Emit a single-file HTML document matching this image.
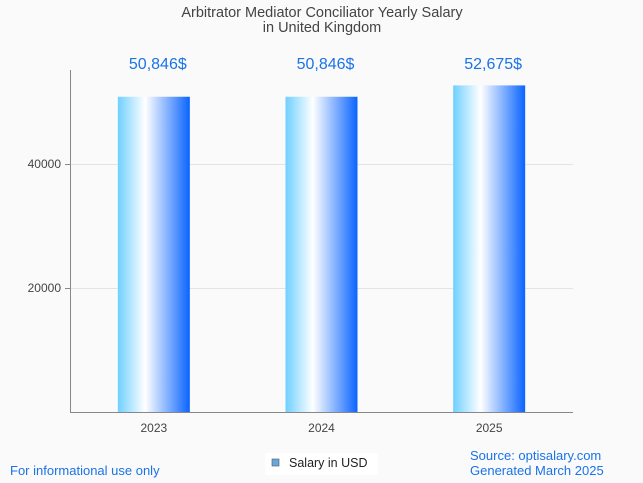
<!DOCTYPE html>
<html><head><meta charset="utf-8"><style>
body{margin:0;background:#fafafa;font-family:"Liberation Sans",sans-serif}
svg{display:block}
</style></head><body>
<svg id="chart" width="643" height="483" xmlns="http://www.w3.org/2000/svg">
<defs><linearGradient id="g" x1="0" x2="1" y1="0" y2="0">
<stop offset="0" stop-color="#6fd0ff"/><stop offset="0.38" stop-color="#ffffff"/><stop offset="1" stop-color="#0a64ff"/>
</linearGradient></defs>
<rect width="643" height="483" fill="#fafafa"/>
<text x="322" y="17" text-anchor="middle" font-size="14.5" fill="#444">Arbitrator Mediator Conciliator Yearly Salary</text>
<text x="322" y="32" text-anchor="middle" font-size="14.5" fill="#444">in United Kingdom</text>
<g id="grid"></g>
<g id="bars"></g>
<line x1="70.5" y1="70" x2="70.5" y2="412" stroke="#888"/>
<line x1="70" y1="412.5" x2="573" y2="412.5" stroke="#888"/>
<text x="10" y="475" font-size="13" fill="#1a73e8">For informational use only</text>
<rect x="265" y="453" width="113" height="22" fill="#fff"/>
<rect x="272" y="459" width="7" height="7" fill="#6aa6e0" stroke="#555" stroke-width="0.6"/>
<text x="289" y="467" font-size="12.5" fill="#222">Salary in USD</text>
<text x="470" y="460" font-size="13" fill="#1a73e8">Source: optisalary.com</text>
<text x="470" y="475" font-size="13" fill="#1a73e8">Generated March 2025</text>
</svg>
<script>
const categories=["2023","2024","2025"];
const values=[50846,50846,52675];
const valueLabels=["50,846$","50,846$","52,675$"];
const yTicks=[20000,40000];
const NS="http://www.w3.org/2000/svg";
const x0=70,x1=573,yBase=412,yTop=71,yMax=55000;
const y=v=>yBase-(v/yMax)*(yBase-yTop);
const band=(x1-x0)/categories.length;
const xc=i=>x0+band*(i+0.5);
function mk(t,a,p){const e=document.createElementNS(NS,t);for(const k in a)e.setAttribute(k,a[k]);p.appendChild(e);return e;}
const grid=document.getElementById('grid'),bars=document.getElementById('bars');
yTicks.forEach(v=>{
 const l=mk('line',{x1:x0,x2:x1,y1:y(v)+0.5,y2:y(v)+0.5,stroke:'#e3e3e3'},grid);
 
 
 const tk=mk('line',{x1:x0-5,x2:x0,y1:y(v)+0.5,y2:y(v)+0.5,stroke:'#888'},grid);
 
 
 const t=mk('text',{x:x0-9,y:y(v)+4,'text-anchor':'end','font-size':12,fill:'#444'},grid);
 t.textContent=v;
 
 
});
const bw=72;
categories.forEach((c,i)=>{
 const r=mk('rect',{x:xc(i)-bw/2,y:y(values[i]),width:bw,height:yBase-y(values[i]),fill:'url(#g)'},bars);
 
 
 const vl=mk('text',{x:xc(i)+4,y:69,'text-anchor':'middle','font-size':16,fill:'#1a73e8'},bars);
 vl.textContent=valueLabels[i];
 
 
 const xl=mk('text',{x:xc(i),y:432,'text-anchor':'middle','font-size':12,fill:'#444'},bars);
 xl.textContent=c;
 
 
});
</script>
</body></html>
